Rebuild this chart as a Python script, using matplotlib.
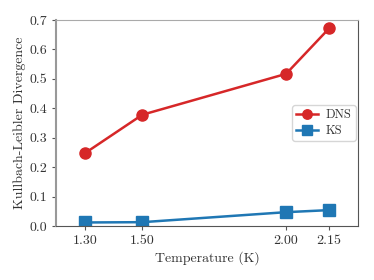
import matplotlib
matplotlib.use("Agg")
import matplotlib.pyplot as plt

temps = [1.30, 1.50, 2.00, 2.15]
dns_kl = [0.247, 0.378, 0.517, 0.672]
ks_kl = [0.012, 0.013, 0.047, 0.054]
tick_labels = ["1.30", "1.50", "2.00", "2.15"]

plt.rcParams["font.family"] = "serif"
plt.rcParams["font.serif"] = ["cmr10"]
plt.rcParams["mathtext.fontset"] = "cm"
plt.rcParams["axes.formatter.use_mathtext"] = True
plt.rcParams["text.color"] = "#333333"
plt.rcParams["axes.labelcolor"] = "#333333"

fig = plt.figure(figsize=(3.74, 2.8), dpi=100)
ax = fig.add_axes([56 / 374, 54 / 280, 302 / 374, 206 / 280])

ax.plot(temps, dns_kl, color="#d62728", marker="o", markersize=8, lw=1.8, label="DNS")
ax.plot(temps, ks_kl, color="#1f77b4", marker="s", markersize=8, lw=1.8, label="KS")

ax.set_xlim(1.2, 2.25)
ax.set_ylim(0, 0.7)
ax.set_xticks(temps)
ax.set_xticklabels(tick_labels)
ax.set_yticks([0, 0.1, 0.2, 0.3, 0.4, 0.5, 0.6, 0.7])
ax.set_yticklabels(["0.0", "0.1", "0.2", "0.3", "0.4", "0.5", "0.6", "0.7"])
ax.tick_params(labelsize=10, length=3, color="#555555", labelcolor="#333333")

ax.spines["left"].set_color("#999999")
ax.spines["left"].set_linewidth(1.5)
ax.spines["top"].set_color("#aaaaaa")
ax.spines["right"].set_color("#555555")
ax.spines["bottom"].set_color("#555555")

ax.set_xlabel("Temperature (K)", fontsize=10, labelpad=3)
ax.set_ylabel("Kullbach-Leibler Divergence", fontsize=10, labelpad=2)
ax.legend(loc="center right", fontsize=9, frameon=True, handlelength=1.8,
          markerscale=0.85, borderaxespad=0.2, borderpad=0.3,
          labelspacing=0.3, handletextpad=0.6)

fig.savefig("out.png", dpi=100)
